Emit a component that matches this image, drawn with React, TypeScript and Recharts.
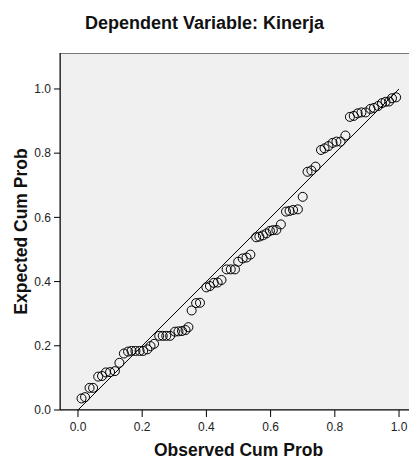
import React from 'react';
import {
  ScatterChart,
  Scatter,
  XAxis,
  YAxis,
  ReferenceLine,
  ReferenceArea,
  Label,
} from 'recharts';

const observedProb = [
  0.011, 0.022, 0.036, 0.047, 0.063, 0.075, 0.087, 0.1, 0.115, 0.129,
  0.143, 0.156, 0.167, 0.179, 0.192, 0.203, 0.216, 0.226, 0.237, 0.253,
  0.264, 0.275, 0.287, 0.302, 0.313, 0.324, 0.335, 0.344, 0.354, 0.368,
  0.38, 0.4, 0.411, 0.423, 0.435, 0.447, 0.463, 0.476, 0.489, 0.499,
  0.513, 0.525, 0.537, 0.555, 0.565, 0.576, 0.587, 0.598, 0.607, 0.618,
  0.632, 0.648, 0.659, 0.67, 0.685, 0.7, 0.715, 0.727, 0.74, 0.757,
  0.768, 0.78, 0.793, 0.805, 0.818, 0.833, 0.847, 0.859, 0.871, 0.883,
  0.896, 0.911, 0.922, 0.935, 0.947, 0.958, 0.969, 0.978, 0.991,
];

const expectedProb = [
  0.036, 0.04, 0.069, 0.069, 0.104, 0.106, 0.117, 0.118, 0.121, 0.147,
  0.176, 0.182, 0.184, 0.184, 0.184, 0.184, 0.189, 0.199, 0.206, 0.231,
  0.231, 0.231, 0.231, 0.244, 0.245, 0.246, 0.249, 0.258, 0.31, 0.333,
  0.334, 0.382, 0.386, 0.396, 0.397, 0.405, 0.438, 0.438, 0.438, 0.462,
  0.472, 0.475, 0.484, 0.538, 0.54, 0.544, 0.55, 0.558, 0.56, 0.561,
  0.578, 0.618, 0.62, 0.623, 0.625, 0.664, 0.742, 0.746, 0.758, 0.81,
  0.815, 0.822, 0.832, 0.836, 0.836, 0.855, 0.913, 0.916, 0.924, 0.927,
  0.927, 0.938, 0.941, 0.947, 0.956, 0.96, 0.961, 0.971, 0.974,
];

const axisTicks = [0, 0.2, 0.4, 0.6, 0.8, 1.0];

const xDomain: [number, number] = [-0.056, 1.056];
const yDomain: [number, number] = [0, 1.112];

const points = observedProb.map((x, i) => ({ x, y: expectedProb[i] }));

const FONT = '"Liberation Sans", Arial, sans-serif';

const OpenCircle = (props: any) => {
  const { cx, cy } = props;
  return <circle cx={cx} cy={cy} r={4.5} fill="none" stroke="#000" strokeWidth={1} />;
};

const App: React.FC = () => {
  return (
    <div
      style={{
        position: 'absolute',
        left: 0,
        top: 0,
        width: 409,
        height: 461,
        overflow: 'hidden',
        background: '#fff',
        fontFamily: FONT,
      }}
    >
      <div
        style={{
          position: 'absolute',
          left: 0,
          top: 13,
          width: 409,
          textAlign: 'center',
          fontWeight: 'bold',
          fontSize: 18,
          lineHeight: 'normal',
          color: '#111',
        }}
      >
        Dependent Variable: Kinerja
      </div>
      <ScatterChart
        width={425}
        height={461}
        margin={{ top: 53, right: 8, bottom: 0, left: 0 }}
      >
        <ReferenceArea
          x1={xDomain[0]}
          x2={xDomain[1]}
          y1={yDomain[0]}
          y2={yDomain[1]}
          fill="#f0f0f0"
          fillOpacity={1}
          stroke="#000"
          strokeWidth={1}
          ifOverflow="hidden"
        />
        <XAxis
          type="number"
          dataKey="x"
          domain={xDomain}
          ticks={axisTicks}
          allowDataOverflow
          tickFormatter={(v: number) => v.toFixed(1)}
          height={51}
          tickSize={7}
          tickMargin={5}
          axisLine={{ stroke: '#000' }}
          tickLine={{ stroke: '#000' }}
          tick={{ fill: '#222', fontSize: 12, fontFamily: FONT }}
        >
          <Label
            content={(p: any) => {
              const vb = p.viewBox;
              return (
                <text
                  x={vb.x + vb.width / 2}
                  y={vb.y + 46}
                  textAnchor="middle"
                  fontWeight="bold"
                  fontSize={17.5}
                  fontFamily={FONT}
                  fill="#111"
                >
                  Observed Cum Prob
                </text>
              );
            }}
          />
        </XAxis>
        <YAxis
          type="number"
          dataKey="y"
          domain={yDomain}
          ticks={axisTicks}
          allowDataOverflow
          tickFormatter={(v: number) => v.toFixed(1)}
          width={60}
          tickSize={6}
          tickMargin={3}
          axisLine={{ stroke: '#000' }}
          tickLine={{ stroke: '#000' }}
          tick={{ fill: '#222', fontSize: 12, fontFamily: FONT }}
        >
          <Label
            content={(p: any) => {
              const vb = p.viewBox;
              const cx = 21;
              const cy = vb.y + vb.height / 2;
              return (
                <text
                  x={cx}
                  y={cy}
                  transform={`rotate(-90, ${cx}, ${cy})`}
                  textAnchor="middle"
                  dominantBaseline="central"
                  fontWeight="bold"
                  fontSize={17.5}
                  fontFamily={FONT}
                  fill="#111"
                >
                  Expected Cum Prob
                </text>
              );
            }}
          />
        </YAxis>
        <ReferenceLine
          segment={[
            { x: 0, y: 0 },
            { x: 1, y: 1 },
          ]}
          stroke="#000"
          strokeWidth={1}
        />
        <Scatter data={points} shape={OpenCircle} isAnimationActive={false} />
      </ScatterChart>
    </div>
  );
};

export default App;
